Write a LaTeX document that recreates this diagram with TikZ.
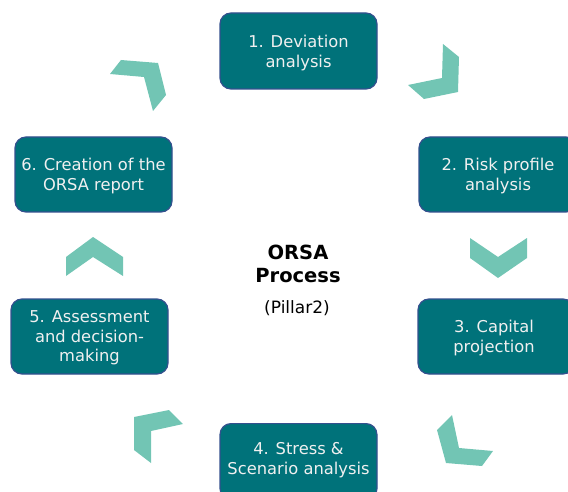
\documentclass[tikz,border=0pt]{standalone}
\usepackage{fontspec}
\setmainfont{DejaVu Sans}
\definecolor{boxfill}{HTML}{00727A}
\definecolor{boxline}{HTML}{34508E}
\definecolor{chev}{HTML}{72C5B4}
\begin{document}
\begin{tikzpicture}[x=1pt,y=-1pt,
  stepbox/.style={draw=boxline, line width=1.2pt, fill=boxfill, rounded corners=11pt,
    inner sep=0pt},
  steptext/.style={text=white!94!black, align=center, inner sep=0pt,
    font=\fontsize{16.3}{19.5}\selectfont},
  chevron/.style={fill=chev, draw=none}]
\useasboundingbox (0,0) rectangle (568,492);
\clip (0,0) rectangle (568,492);
% boxes
\node[stepbox, minimum width=157pt, minimum height=76pt] (b1) at (298.5,51) {};
\node[steptext] (t1) at (298.5,53) {1. Deviation\\analysis};
\node[stepbox, minimum width=158pt, minimum height=75pt] (b2) at (498,174.5) {};
\node[steptext] (t2) at (498,176) {2. Risk profile\\analysis};
\node[stepbox, minimum width=156pt, minimum height=75pt] (b3) at (496,336.5) {};
\node[steptext] (t3) at (494,338) {3. Capital\\projection};
\node[stepbox, minimum width=157pt, minimum height=76pt, anchor=north] (b4) at (298.5,423) {};
\node[steptext] (t4) at (298.5,460) {4. Stress \&\\Scenario analysis};
\node[stepbox, minimum width=157pt, minimum height=75pt] (b5) at (89.5,336.5) {};
\node[steptext] (t5) at (89.5,338) {5. Assessment\\and decision-\\making};
\node[stepbox, minimum width=157pt, minimum height=75pt] (b6) at (93.5,174.5) {};
\node[steptext] (t6) at (93.5,176) {6. Creation of the\\ORSA report};
% centre
\node[font=\bfseries\fontsize{19.5}{23}\selectfont, align=center] (c) at (298,264) {ORSA\\Process};
\node[font=\fontsize{17}{20}\selectfont] (p) at (297,308) {(Pillar2)};
% chevrons
\fill[chevron] (110,74) -- (121,60) -- (158,63) -- (166,95) -- (153,111) -- (144,77) -- cycle;
\fill[chevron] (443,44) -- (459,57) -- (458,92) -- (424,99) -- (408,85) -- (442,78) -- cycle;
\fill[chevron] (470,238) -- (498,257) -- (527,238) -- (527,258) -- (498,278) -- (470,258) -- cycle;
\fill[chevron] (452,415) -- (459,448) -- (493,451) -- (482,466) -- (446,463) -- (437,430) -- cycle;
\fill[chevron] (134,417) -- (169,410) -- (183,424) -- (151,431) -- (151,463) -- (134,450) -- cycle;
\fill[chevron] (66,257) -- (93,237) -- (123,257) -- (123,276) -- (93,257) -- (66,276) -- cycle;
\end{tikzpicture}
\end{document}
